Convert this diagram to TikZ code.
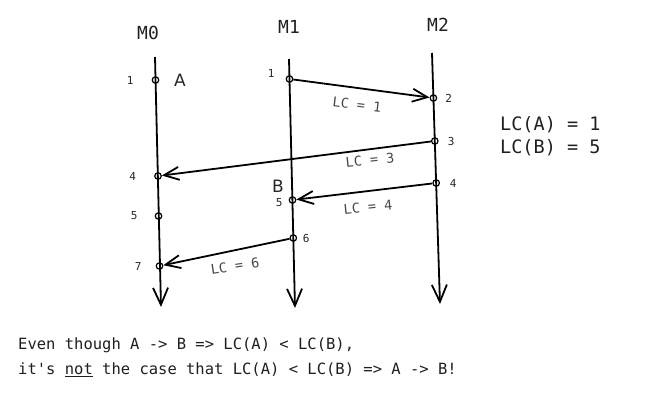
\documentclass[tikz,border=0pt]{standalone}
\usepackage{fontspec}
\setmonofont{DejaVu Sans Mono}
\newfontfamily\handfont{DejaVu Sans}
\usetikzlibrary{arrows.meta,positioning}

\begin{document}
\begin{tikzpicture}[
    x=1pt, y=-1pt,
    node distance=8pt,
    proc/.style={font=\ttfamily\fontsize{18}{20}\selectfont, text=black!88},
    num/.style={font=\ttfamily\fontsize{11}{13}\selectfont, inner sep=1pt, text=black!85},
    hand/.style={font=\handfont\fontsize{17}{19}\selectfont, text=black!85},
    lc/.style={font=\ttfamily\fontsize{13.5}{15}\selectfont, text=black!72},
    note/.style={font=\ttfamily\fontsize{18.5}{23}\selectfont, align=left, anchor=west, inner sep=0pt, text=black!88},
    remark/.style={font=\ttfamily\fontsize{15.5}{25}\selectfont, align=left, anchor=west, inner sep=0pt, text=black!88},
    evt/.style={circle, draw, line width=1.2pt, inner sep=0pt, minimum size=6.5pt},
    timeline/.style={line width=1.8pt, -{Straight Barb[length=17pt, width=15pt]}},
    msg/.style={line width=1.8pt, -{Straight Barb[length=15pt, width=13pt]}}
]
\useasboundingbox (0,0) rectangle (648,408);

\node[proc] (m0) at (148,33) {M0};
\node[proc] (m1) at (289,27) {M1};
\node[proc] (m2) at (438,25) {M2};

\coordinate (m0top) at (155,57);
\coordinate (m0end) at (161,307);
\coordinate (m1top) at (289,59);
\coordinate (m1end) at (295,308);
\coordinate (m2top) at (432,53);
\coordinate (m2end) at (440,304);
\draw[timeline] (m0top) -- (m0end);
\draw[timeline] (m1top) -- (m1end);
\draw[timeline] (m2top) -- (m2end);

\node[evt] (m0e1) at (155.5,80) {};
\node[evt] (m0e4) at (158,176) {};
\node[evt] (m0e5) at (158.5,216) {};
\node[evt] (m0e7) at (159.5,266) {};
\node[evt] (m1e1) at (289.5,79) {};
\node[evt] (m1e5) at (292.5,200) {};
\node[evt] (m1e6) at (293.3,238) {};
\node[evt] (m2e2) at (433.4,98) {};
\node[evt] (m2e3) at (434.8,141) {};
\node[evt] (m2e4) at (436.2,183) {};

\node[num, left=17pt of m0e1] {1};
\node[num, left=17pt of m0e4] {4};
\node[num, left=16pt of m0e5] {5};
\node[num, left=13pt of m0e7] {7};
\node[num, left=10pt of m1e1, yshift=6pt] {1};
\node[num, left=5pt of m1e5, yshift=-3pt] {5};
\node[num, right=4.5pt of m1e6] {6};
\node[num, right=7pt of m2e2] {2};
\node[num, right=8pt of m2e3] {3};
\node[num, right=8.5pt of m2e4] {4};

\node[hand] (a) at (180,80) {A};
\node[hand] (b) at (278,186) {B};

\draw[msg] (m1e1) -- (m2e2);
\draw[msg] (m2e3) -- (m0e4);
\draw[msg] (m2e4) -- (m1e5);
\draw[msg] (m1e6) -- (m0e7);

\node[lc, rotate=-7] (lc1) at (357,105) {LC = 1};
\node[lc, rotate=5.5] (lc3) at (370,160) {LC = 3};
\node[lc, rotate=5.5] (lc4) at (368,207) {LC = 4};
\node[lc, rotate=8.5] (lc6) at (235,266) {LC = 6};

\node[note] (clocks) at (500,136.5) {LC(A) = 1\\LC(B) = 5};
\node[remark] (claim) at (18,357.5) {Even though A -> B => LC(A) < LC(B),\\it's \underline{not} the case that LC(A) < LC(B) => A -> B!};
\end{tikzpicture}
\end{document}
